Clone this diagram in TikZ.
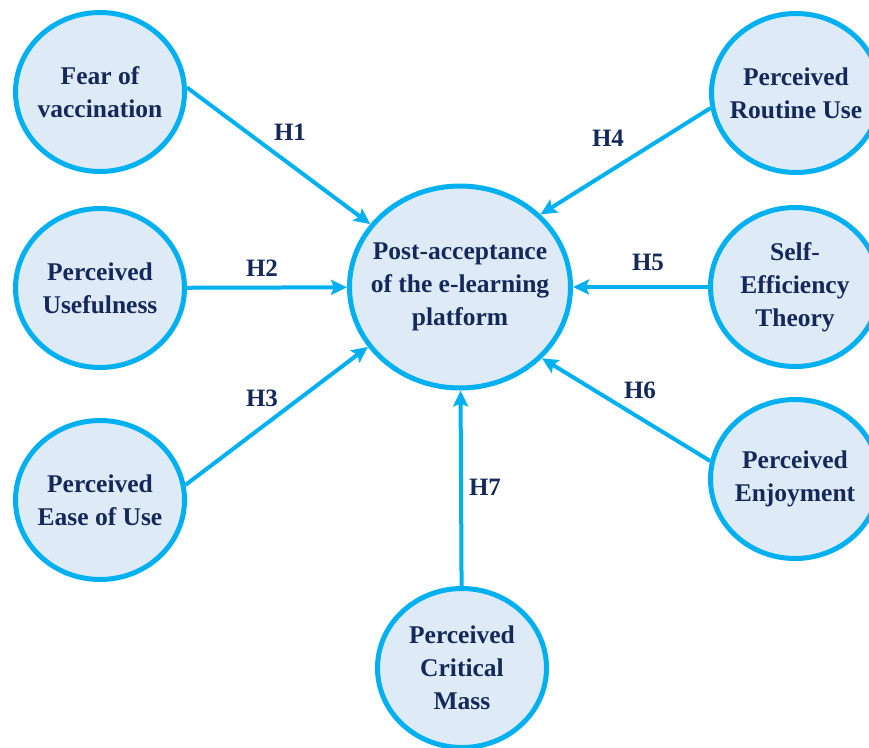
\documentclass[tikz,border=0pt]{standalone}
\usepackage{fontspec}
\setmainfont{Liberation Serif}
\usetikzlibrary{shapes.geometric,arrows.meta}
\definecolor{cyanline}{HTML}{00B0F0}
\definecolor{circfill}{HTML}{DEEBF7}
\definecolor{navytext}{HTML}{14285A}
\begin{document}
\begin{tikzpicture}[x=1pt,y=-1pt,
  construct/.style={ellipse, draw=cyanline, fill=circfill, line width=5pt,
    minimum width=169pt, minimum height=159pt, inner sep=-40pt, align=center,
    text=navytext, font=\fontsize{25.5}{33}\selectfont\bfseries},
  hyp/.style={draw=cyanline, line width=4pt, -{Stealth[length=16pt,width=15pt,inset=3pt]}},
  hlabel/.style={text=navytext, font=\fontsize{25}{28}\selectfont\bfseries}]
\useasboundingbox (0,0) rectangle (869,747);
\clip (0,0) rectangle (869,747);
\node[construct, minimum width=221pt, minimum height=202pt] (post) at (460,287) {Post-acceptance\\of the e-learning\\platform};
\node[construct] (fear) at (100,92) {Fear of\\vaccination};
\node[construct] (useful) at (100,288) {Perceived\\Usefulness};
\node[construct] (ease) at (100,500) {Perceived\\Ease of Use};
\node[construct] (routine) at (796,93) {Perceived\\Routine Use};
\node[construct] (self) at (795,287) {Self-\\Efficiency\\Theory};
\node[construct] (enjoy) at (795,479) {Perceived\\Enjoyment};
\node[construct] (crit) at (462,668) {Perceived\\Critical\\Mass};
\draw[hyp] (fear.3) -- (post.145);
\draw[hyp] (useful) -- (post);
\draw[hyp] (ease.10) -- (post.213);
\draw[hyp] (routine.190) -- (post.42);
\draw[hyp] (self) -- (post);
\draw[hyp] (enjoy.168) -- (post.-41);
\draw[hyp] (crit) -- (post);
\node[hlabel] (h1) at (290,132) {H1};
\node[hlabel] (h2) at (262,268) {H2};
\node[hlabel] (h3) at (262,398) {H3};
\node[hlabel] (h4) at (608,138) {H4};
\node[hlabel] (h5) at (648,262) {H5};
\node[hlabel] (h6) at (640,390) {H6};
\node[hlabel] (h7) at (485,487) {H7};
\end{tikzpicture}
\end{document}
